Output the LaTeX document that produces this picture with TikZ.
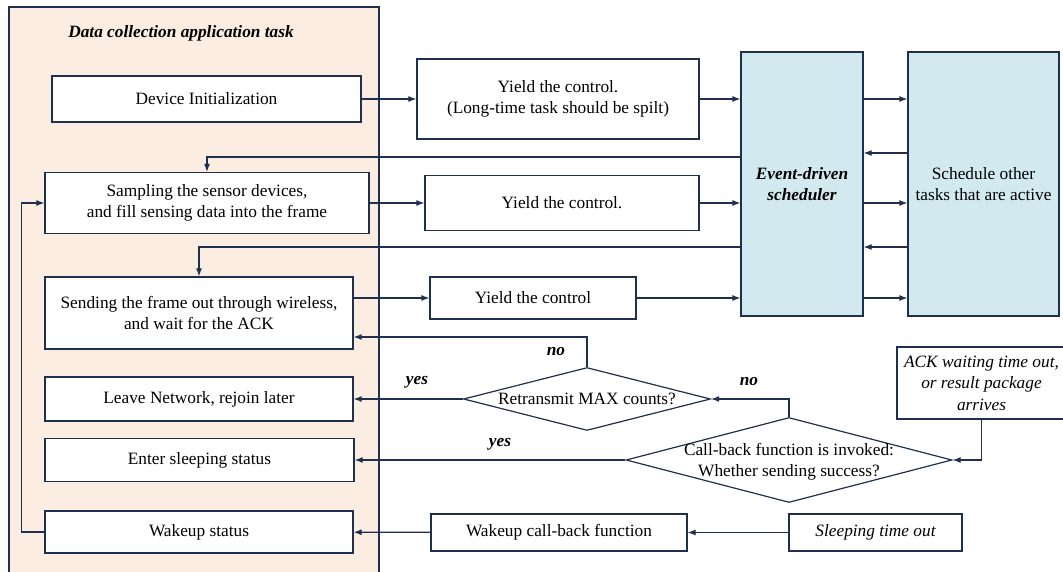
\documentclass[tikz,border=0pt]{standalone}
\usepackage{fontspec}
\setmainfont{Liberation Serif}
\usepackage{xcolor}
\usetikzlibrary{arrows.meta,positioning,shapes.geometric}
\definecolor{navy}{RGB}{31,48,78}
\definecolor{peach}{RGB}{252,237,227}
\definecolor{sky}{RGB}{210,233,240}
\newcommand\figfont{\fontsize{17.3}{21.5}\selectfont}
\tikzset{
  bx/.style={rectangle,draw=navy,line width=1.2pt,fill=white,align=center,inner sep=2pt},
  sch/.style={bx,fill=sky},
  lane/.style={rectangle,draw=navy,line width=1.2pt,fill=peach,inner sep=0pt},
  dm/.style={diamond,draw=navy,line width=1.2pt,fill=white,inner sep=0pt},
  ar/.style={draw=navy,line width=1.2pt,-{Latex[length=8pt,width=6pt]}},
  lb/.style={font=\figfont\bfseries\itshape},
}

\begin{document}
\begin{tikzpicture}[x=1pt,y=-1pt,font=\figfont]
  \useasboundingbox (0,0) rectangle (1063,572);
  \node[lane,minimum width=370pt,minimum height=573pt] (task) at (194,293.5){};
  \node[lb] (ttl) at (181,33){Data collection application task};
  \node[bx,minimum width=309pt,minimum height=46pt] (init) at (206.5,99){Device Initialization};
  \node[bx,minimum width=324pt,minimum height=61pt] (samp) at (207,203){Sampling the sensor devices,\\and fill sensing data into the frame};
  \node[bx,minimum width=308pt,minimum height=72pt] (send) at (199,313){Sending the frame out through wireless,\\and wait for the ACK};
  \node[bx,minimum width=308pt,minimum height=44pt] (leave) at (199,399){Leave Network, rejoin later};
  \node[bx,minimum width=309pt,minimum height=43pt] (enter) at (199.5,460){Enter sleeping status};
  \node[bx,minimum width=308pt,minimum height=42pt] (wake) at (199,532){Wakeup status};
  \node[bx,minimum width=282pt,minimum height=80pt] (yield1) at (558,99){Yield the control.\\(Long-time task should be spilt)};
  \node[bx,minimum width=274pt,minimum height=55pt] (yield2) at (562,203){Yield the control.};
  \node[bx,minimum width=206pt,minimum height=42pt] (yield3) at (533,298){Yield the control};
  \node[sch,minimum width=122pt,minimum height=264pt,font=\figfont\bfseries\itshape] (sched) at (802,184){Event-driven\\scheduler};
  \node[sch,minimum width=151pt,minimum height=264pt] (other) at (983.5,184){Schedule other\\tasks that are active};
  \node[dm,minimum width=247pt,minimum height=63pt] (retx) at (587,399){};
  \node (retxt) at (retx){Retransmit MAX counts?};
  \node[dm,minimum width=326pt,minimum height=85pt] (cb) at (789,460){};
  \node[align=center] (cbt) at (789,462){Call-back function is invoked:\\Whether sending success?};
  \node[bx,minimum width=169pt,minimum height=72pt,font=\figfont\itshape] (ack) at (981.5,383){ACK waiting time out,\\or result package\\arrives};
  \node[bx,minimum width=256pt,minimum height=37pt] (wcb) at (559,532.5){Wakeup call-back function};
  \node[bx,minimum width=173pt,minimum height=37pt,font=\figfont\itshape] (slto) at (875.5,532.5){Sleeping time out};
  \draw[ar] (init)--(yield1);
  \draw[ar] (yield1)--(yield1-|sched.west);
  \draw[ar] (sched.east|-init)--(other.west|-init);
  \draw[ar] (other.west|-0,153)--(sched.east|-0,153);
  \draw[ar] (sched.west|-0,157)-|(samp);
  \draw[ar] (samp)--(yield2);
  \draw[ar] (yield2)--(yield2-|sched.west);
  \draw[ar] (sched.east|-yield2)--(other.west|-yield2);
  \draw[ar] (other.west|-0,247)--(sched.east|-0,247);
  \draw[ar] (sched.west|-0,247)-|(send);
  \draw[ar] (send.east|-yield3)--(yield3);
  \draw[ar] (yield3)--(yield3-|sched.west);
  \draw[ar] (sched.east|-yield3)--(other.west|-yield3);
  \draw[ar] (retx.north)|-(send.east|-0,337);
  \draw[ar] (retx)--(leave);
  \draw[ar] (cb.north)|-(retx);
  \draw[ar] (cb)--(enter);
  \draw[ar] (ack)|-(cb);
  \draw[ar] (slto)--(wcb);
  \draw[ar] (wcb)--(wake);
  \draw[ar] (wake.west)--++(-23,0)|-(samp);
  \node[lb] (no1) at (556,352){no};
  \node[lb] (no2) at (749,382){no};
  \node[lb] (yes1) at (417,382){yes};
  \node[lb] (yes2) at (500,444){yes};
\end{tikzpicture}
\end{document}
